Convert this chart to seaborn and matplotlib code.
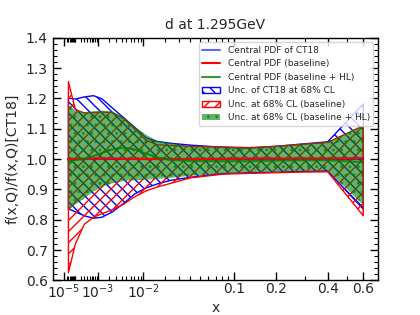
import numpy as np
import matplotlib
matplotlib.use("Agg")
import matplotlib.pyplot as plt
from matplotlib.ticker import FixedLocator, FixedFormatter, MultipleLocator
import seaborn as sns

# x grid of the PDF ratio
x = [3e-5, 1e-4, 3e-4, 7e-4, 1.3e-3, 2.5e-3, 4.5e-3, 7e-3, 0.011, 0.016,
     0.024, 0.04, 0.08, 0.13, 0.2, 0.28, 0.4, 0.6]

# CT18 (reference) central and 68% CL band
ct18_central = [1.0] * 18
ct18_hi = [1.201, 1.198, 1.205, 1.209, 1.199, 1.168, 1.135, 1.106, 1.070, 1.058,
           1.052, 1.046, 1.039, 1.036, 1.042, 1.049, 1.057, 1.182]
ct18_lo = [0.836, 0.826, 0.813, 0.805, 0.808, 0.826, 0.855, 0.884, 0.905, 0.918,
           0.930, 0.940, 0.952, 0.955, 0.957, 0.959, 0.961, 0.835]

# baseline
base_central = [1.000, 1.001, 1.001, 1.002, 1.002, 1.002, 1.001, 1.001, 1.000, 1.000,
                1.000, 1.000, 1.001, 1.002, 1.002, 1.002, 1.002, 1.003]
base_hi = [1.255, 1.163, 1.152, 1.153, 1.155, 1.153, 1.132, 1.100, 1.062, 1.047,
           1.045, 1.042, 1.040, 1.038, 1.042, 1.048, 1.055, 1.110]
base_lo = [0.625, 0.720, 0.785, 0.808, 0.820, 0.833, 0.852, 0.875, 0.895, 0.908,
           0.920, 0.938, 0.950, 0.953, 0.955, 0.957, 0.958, 0.813]

# baseline + HL
hl_central = [0.993, 0.996, 1.001, 1.010, 1.020, 1.032, 1.038, 1.032, 1.018, 1.005,
              0.997, 0.994, 0.993, 0.993, 0.995, 0.996, 0.996, 0.990]
hl_hi = [1.178, 1.160, 1.155, 1.158, 1.160, 1.157, 1.138, 1.108, 1.080, 1.060,
         1.052, 1.043, 1.040, 1.038, 1.043, 1.049, 1.056, 1.112]
hl_lo = [0.835, 0.850, 0.870, 0.893, 0.908, 0.920, 0.928, 0.930, 0.932, 0.935,
         0.938, 0.945, 0.953, 0.957, 0.959, 0.961, 0.963, 0.848]

major_x = [1e-5, 1e-3, 1e-2, 0.1, 0.2, 0.4, 0.6]
major_labels = ["$10^{-5}$", "$10^{-3}$", "$10^{-2}$", "0.1", "0.2", "0.4", "0.6"]


def fwd(v):
    return np.power(np.clip(v, 0, None), 0.3)


def inv(v):
    return np.power(np.clip(v, 0, None), 1 / 0.3)


sns.set_theme(style="white")
plt.rcParams["font.family"] = ["DejaVu Sans"]
plt.rcParams["hatch.linewidth"] = 1.0

fig, ax = plt.subplots(figsize=(4.2, 3.15), dpi=100)
fig.subplots_adjust(left=0.125, right=0.9, bottom=0.11, top=0.88)

ax.fill_between(x, ct18_lo, ct18_hi, facecolor="none", edgecolor="blue",
                hatch="\\\\\\", linewidth=1.0, label="Unc. of CT18 at 68% CL")
ax.fill_between(x, base_lo, base_hi, facecolor="none", edgecolor="red",
                hatch="///", linewidth=1.0, label="Unc. at 68% CL (baseline)")
ax.fill_between(x, hl_lo, hl_hi, facecolor="green", edgecolor="green", alpha=0.6,
                hatch="..", linewidth=0, label="Unc. at 68% CL (baseline + HL)")

sns.lineplot(x=x, y=ct18_central, color="blue", alpha=0.6, linewidth=1.5,
             label="Central PDF of CT18", ax=ax)
sns.lineplot(x=x, y=base_central, color="red", linewidth=1.5,
             label="Central PDF (baseline)", ax=ax)
sns.lineplot(x=x, y=hl_central, color="green", alpha=0.8, linewidth=1.5,
             label="Central PDF (baseline + HL)", ax=ax)

ax.set_xscale("function", functions=(fwd, inv))
ax.set_xlim(0, 0.7)
ax.set_ylim(0.6, 1.4)

minor_x = ([k * 1e-5 for k in range(2, 10)] + [k * 1e-4 for k in range(1, 10)]
           + [k * 1e-3 for k in range(2, 10)] + [k * 1e-2 for k in range(2, 10)]
           + [0.3, 0.5])
ax.xaxis.set_major_locator(FixedLocator(major_x))
ax.xaxis.set_major_formatter(FixedFormatter(major_labels))
ax.xaxis.set_minor_locator(FixedLocator(minor_x))
ax.yaxis.set_major_locator(MultipleLocator(0.1))
ax.yaxis.set_minor_locator(MultipleLocator(0.02))
ax.tick_params(which="both", direction="in", top=True, right=True,
               bottom=True, left=True, color="black", labelsize=10)
ax.tick_params(which="major", length=6, width=1)
ax.tick_params(which="minor", length=3, width=0.8)
ax.tick_params(axis="x", which="major", pad=1.5)
for s in ax.spines.values():
    s.set_color("black")
    s.set_linewidth(1.0)

ax.set_title("d at 1.295GeV", fontsize=10)
ax.set_xlabel("x", fontsize=10, labelpad=0)
ax.set_ylabel("f(x,Q)/f(x,Q)[CT18]", fontsize=10)

h, l = ax.get_legend_handles_labels()
order = ["Central PDF of CT18", "Central PDF (baseline)", "Central PDF (baseline + HL)",
         "Unc. of CT18 at 68% CL", "Unc. at 68% CL (baseline)",
         "Unc. at 68% CL (baseline + HL)"]
hd = dict(zip(l, h))
ax.legend([hd[k] for k in order], order, loc="upper right", fontsize=6.5,
          frameon=True, framealpha=0.8)

fig.savefig("out.png", dpi=100)
